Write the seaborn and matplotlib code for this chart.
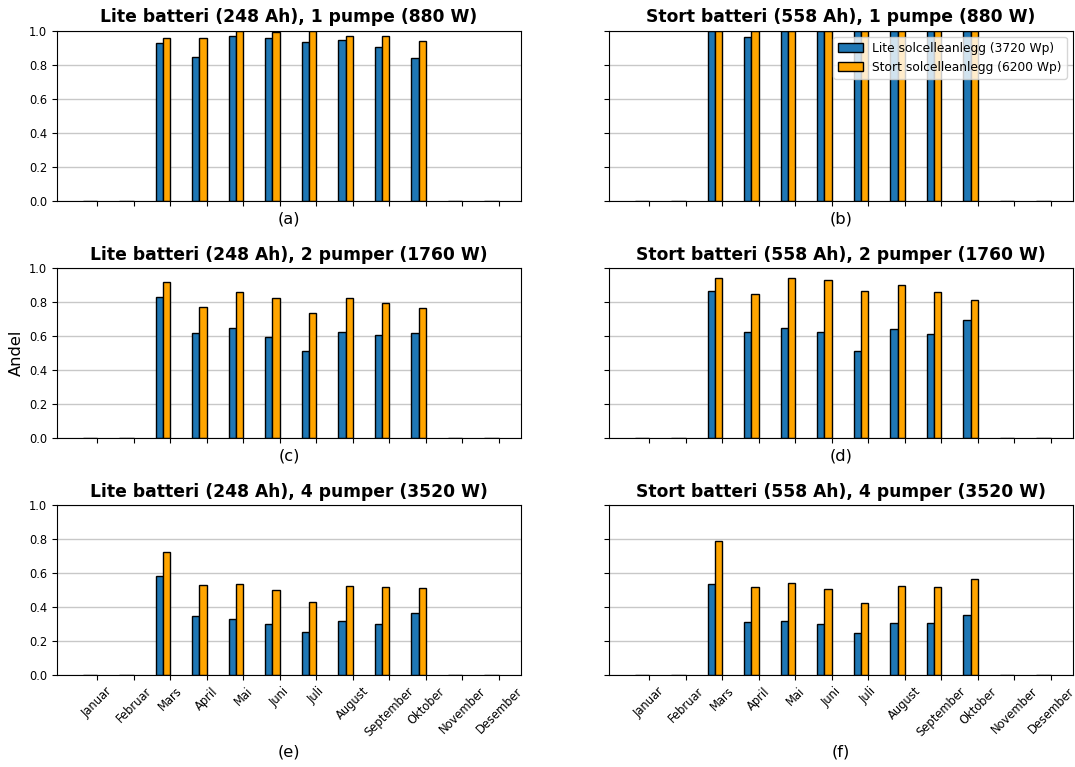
import numpy as np
import pandas as pd
import matplotlib
matplotlib.use("Agg")
import matplotlib.pyplot as plt
import seaborn as sns

months = ["Januar", "Februar", "Mars", "April", "Mai", "Juni", "Juli",
          "August", "September", "Oktober", "November", "Desember"]
series_names = ["Lite solcelleanlegg (3720 Wp)", "Stort solcelleanlegg (6200 Wp)"]

titles = [
    "Lite batteri (248 Ah), 1 pumpe (880 W)",
    "Stort batteri (558 Ah), 1 pumpe (880 W)",
    "Lite batteri (248 Ah), 2 pumper (1760 W)",
    "Stort batteri (558 Ah), 2 pumper (1760 W)",
    "Lite batteri (248 Ah), 4 pumper (3520 W)",
    "Stort batteri (558 Ah), 4 pumper (3520 W)",
]
panel_labels = ["(a)", "(b)", "(c)", "(d)", "(e)", "(f)"]

# Share of demand covered per month (small / large PV system)
a_small = [0, 0, 0.925, 0.846, 0.970, 0.955, 0.935, 0.945, 0.902, 0.837, 0, 0]
a_large = [0, 0, 0.959, 0.959, 0.998, 0.990, 1.000, 0.970, 0.970, 0.939, 0, 0]
b_small = [0, 0, 1.000, 0.965, 1.000, 1.000, 1.000, 1.000, 1.000, 1.000, 0, 0]
b_large = [0, 0, 1.000, 1.000, 1.000, 1.000, 1.000, 1.000, 1.000, 1.000, 0, 0]
c_small = [0, 0, 0.829, 0.616, 0.644, 0.596, 0.508, 0.620, 0.606, 0.616, 0, 0]
c_large = [0, 0, 0.917, 0.768, 0.860, 0.823, 0.736, 0.823, 0.793, 0.762, 0, 0]
d_small = [0, 0, 0.866, 0.622, 0.648, 0.622, 0.508, 0.638, 0.610, 0.691, 0, 0]
d_large = [0, 0, 0.943, 0.846, 0.939, 0.929, 0.866, 0.898, 0.860, 0.809, 0, 0]
e_small = [0, 0, 0.581, 0.346, 0.327, 0.299, 0.254, 0.315, 0.299, 0.362, 0, 0]
e_large = [0, 0, 0.724, 0.528, 0.537, 0.498, 0.429, 0.522, 0.518, 0.512, 0, 0]
f_small = [0, 0, 0.533, 0.314, 0.320, 0.298, 0.247, 0.304, 0.304, 0.355, 0, 0]
f_large = [0, 0, 0.787, 0.517, 0.542, 0.503, 0.422, 0.523, 0.517, 0.564, 0, 0]

panels = [(a_small, a_large), (b_small, b_large), (c_small, c_large),
          (d_small, d_large), (e_small, e_large), (f_small, f_large)]

palette = ["#1f77b4", "#ffa500"]

fig, axes = plt.subplots(3, 2, figsize=(10.75, 7.67), dpi=100,
                         sharex=True, sharey=True)
fig.subplots_adjust(left=0.053, right=0.998, top=0.96, bottom=0.12,
                    hspace=0.396, wspace=0.19)

for idx, (ax, (small, large)) in enumerate(zip(axes.flat, panels)):
    df = pd.DataFrame({
        "Måned": months * 2,
        "Andel": list(small) + list(large),
        "Anlegg": [series_names[0]] * 12 + [series_names[1]] * 12,
    })
    ax.set_axisbelow(True)
    ax.yaxis.grid(True, color="#c8c8c8", linewidth=1)
    sns.barplot(data=df, x="Måned", y="Andel", hue="Anlegg",
                order=months, hue_order=series_names, palette=palette,
                saturation=1, width=0.4, errorbar=None,
                edgecolor="black", linewidth=1,
                legend=(idx == 1), ax=ax)
    ax.set_title(titles[idx], fontsize=12.3, fontweight="bold")
    ax.set_xlabel(panel_labels[idx], fontsize=11.7)
    ax.xaxis.label.set_visible(True)
    ax.set_ylabel("")
    ax.set_ylim(0, 1.0)
    ax.set_yticks(np.arange(0, 1.01, 0.2))
    ax.set_xticks(np.arange(12) + 0.2, labels=months)
    ax.set_xlim(-0.9, 11.8)
    ax.tick_params(axis="x", labelrotation=45, labelsize=8.3)
    ax.tick_params(axis="y", labelsize=8.3)
    ax.xaxis.grid(False)
    if idx == 1:
        handles, labels = ax.get_legend_handles_labels()
        ax.legend(handles, labels, loc="upper right", fontsize=8.8)

axes[1, 0].set_ylabel("Andel", fontsize=11.7)

fig.savefig("out.png", dpi=100)
